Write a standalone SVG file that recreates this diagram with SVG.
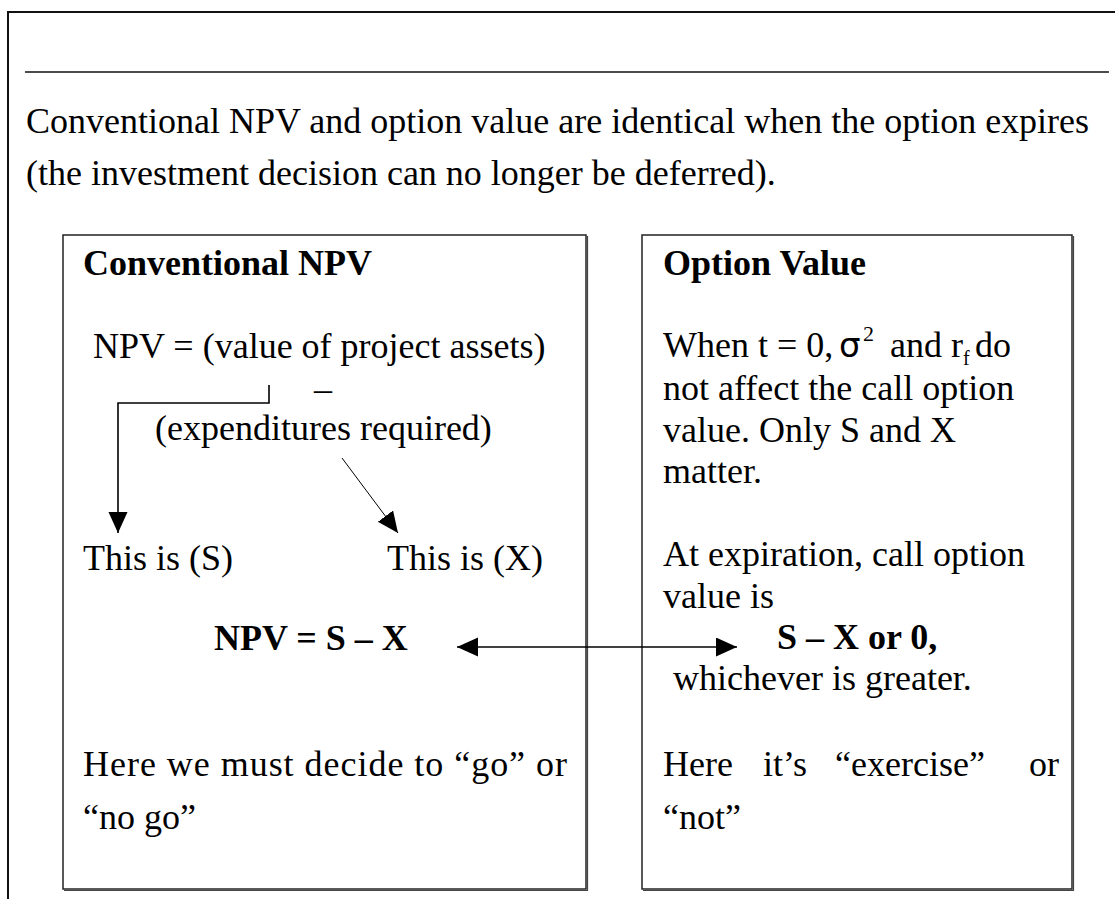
<svg xmlns="http://www.w3.org/2000/svg" width="1115" height="899" viewBox="0 0 1115 899">
  <style>
    text { font-family: "Liberation Serif", "Times New Roman", serif; font-size: 36px; fill: #000; }
    .b { font-weight: bold; }
    .sym { font-family: "DejaVu Sans", sans-serif; font-size: 34px; }
    .sup { font-size: 22px; }
    .sub { font-size: 20px; }
    .frame { fill: none; stroke: #111; stroke-width: 2; }
    .rule { fill: none; stroke: #111; stroke-width: 1.6; }
    .box { fill: #fff; stroke: #222; stroke-width: 1.5; }
    .shadow { fill: none; stroke: #444; stroke-width: 1.2; }
    .conn { fill: none; stroke: #000; stroke-width: 1.6; }
    .thin { fill: none; stroke: #000; stroke-width: 1; }
  </style>
  <defs>
    <marker id="head" markerUnits="userSpaceOnUse" markerWidth="22" markerHeight="20" refX="21" refY="9.5" orient="auto-start-reverse">
      <path d="M0,0 L21,9.5 L0,19 z" fill="#000"/>
    </marker>
  </defs>

  <rect width="1115" height="899" fill="#fff"/>

  <!-- page frame and title rule -->
  <path class="frame" d="M8,899 V12 H1115"/>
  <line class="rule" x1="25" y1="72" x2="1109" y2="72"/>

  <!-- lead text -->
  <g id="intro">
    <text x="26" y="133">Conventional NPV and option value are identical when the option expires</text>
    <text x="26" y="185">(the investment decision can no longer be deferred).</text>
  </g>

  <!-- left panel: conventional NPV -->
  <g id="npv-box">
    <rect class="box" x="63" y="235" width="523" height="654"/>
    <path class="shadow" d="M64,890.5 H587.5 V236"/>
    <text class="b" x="83" y="275">Conventional NPV</text>
    <text x="93" y="358">NPV = (value of project assets)</text>
    <text x="314" y="401">–</text>
    <text x="155" y="440">(expenditures required)</text>
  </g>

  <g id="this-is-s">
    <text x="83" y="570">This is (S)</text>
  </g>
  <g id="this-is-x">
    <text x="387" y="570">This is (X)</text>
  </g>
  <g id="npv-formula">
    <text class="b" x="214" y="650">NPV = S – X</text>
  </g>
  <g id="npv-decision">
    <text x="83" y="776" textLength="484" lengthAdjust="spacing">Here we must decide to “go” or</text>
    <text x="83" y="829">“no go”</text>
  </g>

  <!-- right panel: option value -->
  <g id="option-box">
    <rect class="box" x="642" y="235" width="430" height="654"/>
    <path class="shadow" d="M643,890.5 H1073.5 V236"/>
    <text class="b" x="663" y="275">Option Value</text>
    <text y="357"><tspan x="663">When t = 0,</tspan><tspan class="sym" x="839">σ</tspan><tspan class="sup" x="863" y="341">2</tspan><tspan x="890" y="357">and</tspan><tspan x="951">r</tspan><tspan class="sub" x="963" y="365">f</tspan><tspan x="975" y="357">do</tspan></text>
    <text x="663" y="400">not affect the call option</text>
    <text x="663" y="442">value. Only S and X</text>
    <text x="663" y="483">matter.</text>
    <text x="663" y="566">At expiration, call option</text>
    <text x="663" y="608">value is</text>
  </g>
  <g id="option-formula">
    <text class="b" x="777" y="649">S – X or 0,</text>
    <text x="673" y="690">whichever is greater.</text>
  </g>
  <g id="option-decision">
    <text y="776"><tspan x="663">Here</tspan><tspan x="763">it’s</tspan><tspan x="835">“exercise”</tspan><tspan x="1029">or</tspan></text>
    <text x="663" y="829">“not”</text>
  </g>

  <!-- connectors -->
  <g id="connectors">
    <path class="conn" d="M269,385 V403 H118 V533" marker-end="url(#head)"/>
    <path class="thin" d="M342,458 L398,533" marker-end="url(#head)"/>
    <path class="conn" d="M457,647 H737" marker-start="url(#head)" marker-end="url(#head)"/>
  </g>
</svg>
